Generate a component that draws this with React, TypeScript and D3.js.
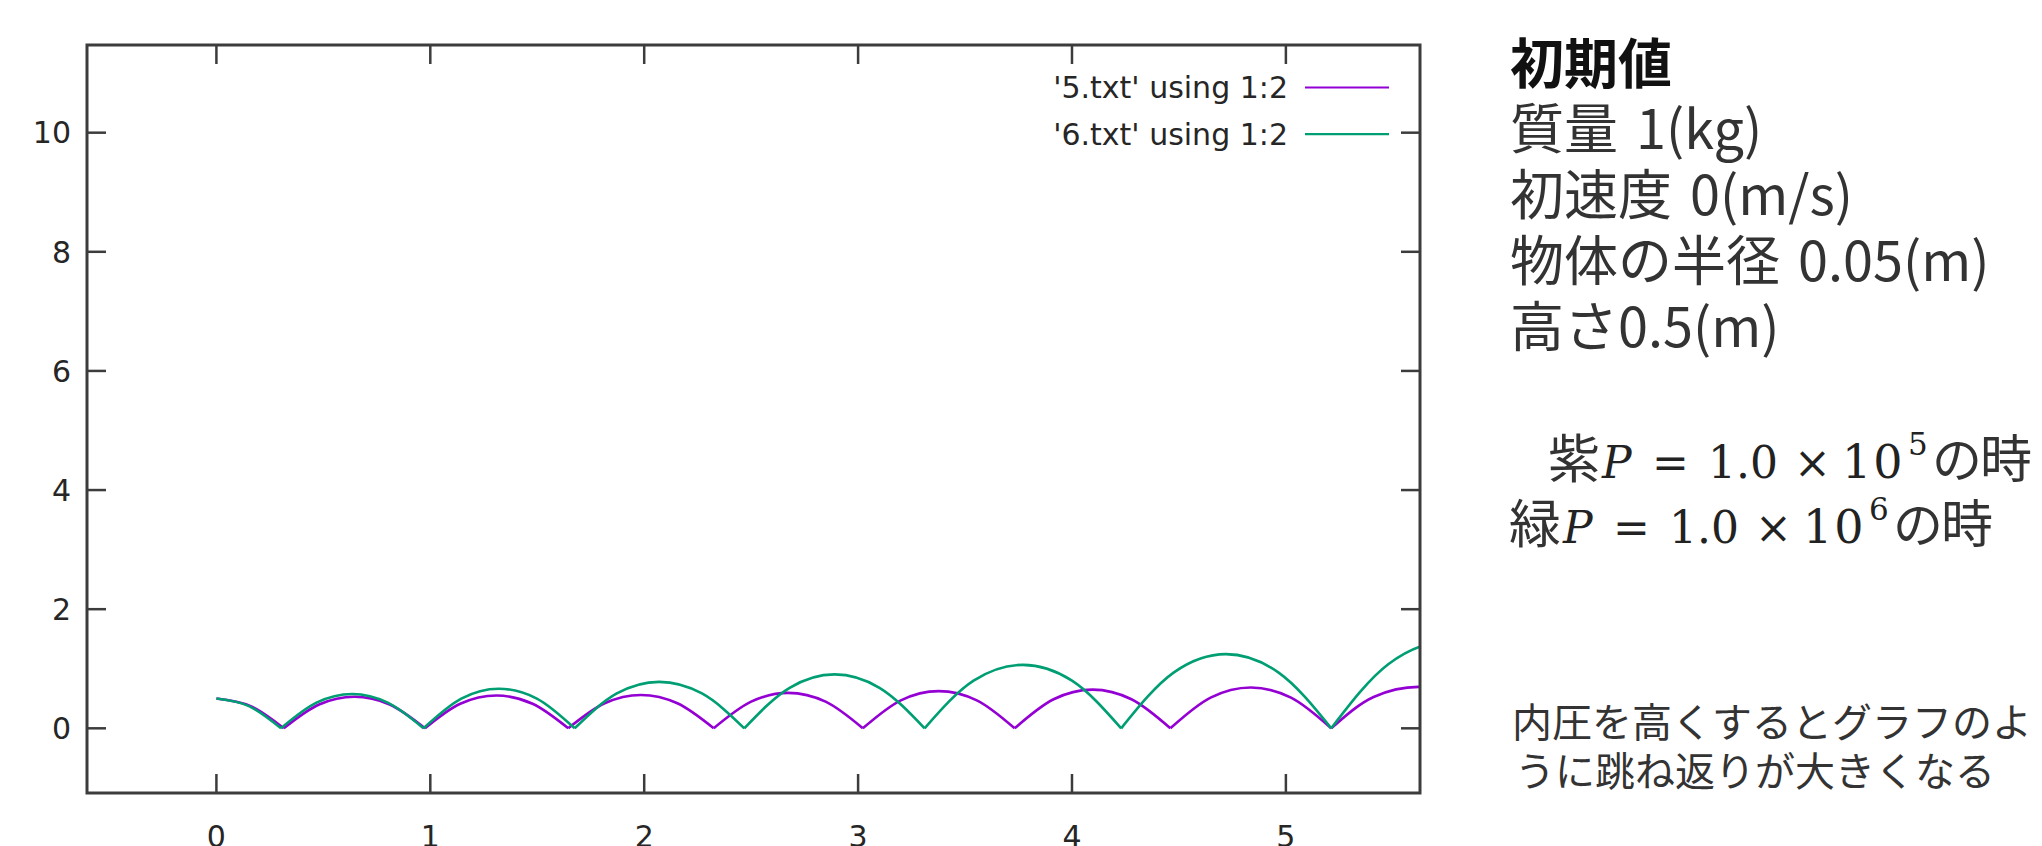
import React, { useRef, useEffect } from 'react';
import * as d3 from 'd3';

// tick values
const xTicks = [0, 1, 2, 3, 4, 5];
const yTicks = [0, 2, 4, 6, 8, 10];

// legend labels
const seriesNames = ["'5.txt' using 1:2", "'6.txt' using 1:2"];
const seriesColors = ['#9400d3', '#009e73'];

// '5.txt' (purple) : [time, height]
const data5: [number, number][] = [
  [0, 0.5], [0.16, 0.372], [0.315, 0],
  [0.48, 0.4], [0.645, 0.53], [0.81, 0.4], [0.975, 0],
  [1.14, 0.412], [1.31, 0.55], [1.478, 0.412], [1.645, 0],
  [1.815, 0.42], [1.985, 0.56], [2.155, 0.42], [2.325, 0],
  [2.5, 0.447], [2.673, 0.595], [2.848, 0.447], [3.022, 0],
  [3.2, 0.47], [3.377, 0.625], [3.555, 0.47], [3.732, 0],
  [3.914, 0.488], [4.096, 0.65], [4.278, 0.488], [4.46, 0],
  [4.648, 0.515], [4.836, 0.685], [5.024, 0.515], [5.212, 0],
  [5.41, 0.525], [5.62, 0.695], [5.8, 0.55],
];

// '6.txt' (green)
const data6: [number, number][] = [
  [0, 0.5], [0.15, 0.376], [0.302, 0],
  [0.468, 0.43], [0.635, 0.575], [0.801, 0.43], [0.968, 0],
  [1.145, 0.5], [1.32, 0.665], [1.498, 0.5], [1.675, 0],
  [1.872, 0.585], [2.07, 0.78], [2.27, 0.585], [2.468, 0],
  [2.68, 0.68], [2.89, 0.905], [3.1, 0.68], [3.311, 0],
  [3.54, 0.8], [3.77, 1.065], [4.0, 0.8], [4.23, 0],
  [4.475, 0.935], [4.72, 1.245], [4.966, 0.935], [5.212, 0],
  [5.48, 1.08], [5.75, 1.45], [6.0, 1.1],
];

// text on the right
const infoTitle = '初期値';
const infoRows = ['質量 1(kg)', '初速度 0(m/s)', '物体の半径 0.05(m)', '高さ0.5(m)'];
const mathRows = [
  { kanji: '紫', exp: '5', x0: 1551 },
  { kanji: '緑', exp: '6', x0: 1512 },
];
const noteRows = ['内圧を高くするとグラフのよ', 'うに跳ね返りが大きくなる'];

const W = 2042;
const H = 846;
const JP = '"Noto Sans CJK JP", "Noto Sans CJK SC", sans-serif';
const SERIF = '"DejaVu Serif", "Liberation Serif", serif';

// cut a bouncing series into single arcs so the corners stay sharp
const splitArcs = (pts: [number, number][]) => {
  const arcs: [number, number][][] = [];
  let cur: [number, number][] = [];
  pts.forEach((p, i) => {
    cur.push(p);
    if (p[1] === 0 && i > 0) {
      arcs.push(cur);
      cur = [p];
    }
  });
  if (cur.length > 1) arcs.push(cur);
  return arcs;
};

const BounceChart = () => {
  const svgRef = useRef<SVGSVGElement>(null);

  useEffect(() => {
    const svg = d3.select(svgRef.current);
    svg.selectAll('*').remove();

    const box = { left: 87, right: 1420, top: 45, bottom: 793 };
    const x = d3.scaleLinear().domain([-0.605, 5.627]).range([box.left, box.right]);
    const y = d3.scaleLinear().domain([-1.086, 11.472]).range([box.bottom, box.top]);
    const tickLen = 19;
    const axisColor = '#3c3c3c';

    svg.append('rect').attr('width', W).attr('height', H).attr('fill', '#fff');

    svg.append('defs').append('clipPath').attr('id', 'plot-clip')
      .append('rect')
      .attr('x', box.left).attr('y', box.top)
      .attr('width', box.right - box.left).attr('height', box.bottom - box.top);

    // ticks on all four sides (gnuplot mirror style)
    const ticks = svg.append('g').attr('stroke', axisColor).attr('stroke-width', 2.5);
    xTicks.forEach(t => {
      ticks.append('line').attr('x1', x(t)).attr('x2', x(t))
        .attr('y1', box.bottom).attr('y2', box.bottom - tickLen);
      ticks.append('line').attr('x1', x(t)).attr('x2', x(t))
        .attr('y1', box.top).attr('y2', box.top + tickLen);
    });
    yTicks.forEach(t => {
      ticks.append('line').attr('x1', box.left).attr('x2', box.left + tickLen)
        .attr('y1', y(t)).attr('y2', y(t));
      ticks.append('line').attr('x1', box.right).attr('x2', box.right - tickLen)
        .attr('y1', y(t)).attr('y2', y(t));
    });

    // tick labels (the bottom row is cut by the picture edge, as in the original)
    const lbl = svg.append('g')
      .attr('font-family', '"DejaVu Sans", sans-serif')
      .attr('font-size', 30)
      .attr('fill', '#262626');
    xTicks.forEach(t => {
      lbl.append('text').attr('x', x(t)).attr('y', 847)
        .attr('text-anchor', 'middle').text(String(t));
    });
    yTicks.forEach(t => {
      lbl.append('text').attr('x', 71).attr('y', y(t)).attr('dy', '0.36em')
        .attr('text-anchor', 'end').text(String(t));
    });

    // curves
    const line = d3.line<[number, number]>()
      .x(d => x(d[0]))
      .y(d => y(d[1]))
      .curve(d3.curveMonotoneX);

    const plot = svg.append('g').attr('clip-path', 'url(#plot-clip)');
    [data5, data6].forEach((series, si) => {
      splitArcs(series).forEach(arc => {
        plot.append('path')
          .attr('d', line(arc))
          .attr('fill', 'none')
          .attr('stroke', seriesColors[si])
          .attr('stroke-width', 2.6)
          .attr('stroke-linejoin', 'miter');
      });
    });

    // legend
    const leg = svg.append('g')
      .attr('font-family', '"DejaVu Sans", sans-serif')
      .attr('font-size', 30)
      .attr('fill', '#262626');
    seriesNames.forEach((name, i) => {
      const ly = 87.5 + i * 46.7;
      leg.append('text').attr('x', 1288).attr('y', ly).attr('dy', '0.36em')
        .attr('text-anchor', 'end').text(name);
      leg.append('line').attr('x1', 1305).attr('x2', 1389)
        .attr('y1', ly).attr('y2', ly)
        .attr('stroke', seriesColors[i]).attr('stroke-width', 2.2);
    });

    // frame
    svg.append('rect')
      .attr('x', box.left).attr('y', box.top)
      .attr('width', box.right - box.left).attr('height', box.bottom - box.top)
      .attr('fill', 'none').attr('stroke', axisColor).attr('stroke-width', 3);

    // right hand notes
    const info = svg.append('g').attr('font-family', JP);
    info.append('text').attr('x', 1510).attr('y', 83.5)
      .attr('font-size', 54).attr('font-weight', 700).attr('fill', '#111').text(infoTitle);
    infoRows.forEach((r, i) => {
      info.append('text').attr('x', 1510).attr('y', 148.5 + i * 66.3)
        .attr('font-size', 54).attr('fill', '#333').attr('word-spacing', 6).text(r);
    });

    mathRows.forEach((r, i) => {
      const o = r.x0;
      const by = 478 + i * 65;
      const g = svg.append('g').attr('fill', '#222');
      const serif = (dx: number, s: string, size = 44, italic = false) =>
        g.append('text').attr('x', o + dx).attr('y', by)
          .attr('font-family', SERIF).attr('font-size', size)
          .attr('font-style', italic ? 'italic' : 'normal').text(s);
      g.append('text').attr('x', o - 3).attr('y', by)
        .attr('font-family', JP).attr('font-size', 52).attr('fill', '#333').text(r.kanji);
      serif(51, 'P', 44, true);
      serif(101, '=');
      serif(157, '1.0');
      serif(243, '×');
      serif(291, '10', 46).attr('letter-spacing', 2);
      serif(357, r.exp, 31).attr('y', by - 23);
      g.append('text').attr('x', o + 381).attr('y', by)
        .attr('font-family', JP).attr('font-size', 50).attr('fill', '#333').text('の');
      g.append('text').attr('x', o + 429).attr('y', by)
        .attr('font-family', JP).attr('font-size', 52).attr('fill', '#333').text('時');
    });

    noteRows.forEach((r, i) => {
      svg.append('text').attr('x', 1512 + i * 3).attr('y', 737 + i * 48.5)
        .attr('font-family', JP).attr('font-size', 40).attr('fill', '#333').text(r);
    });
  }, []);

  return <svg ref={svgRef} width={W} height={H} style={{ display: 'block' }}></svg>;
};

export default function App() {
  return (
    <div style={{ position: 'absolute', left: 0, top: 0, width: W, height: H, overflow: 'hidden', background: '#fff' }}>
      <BounceChart />
    </div>
  );
}
